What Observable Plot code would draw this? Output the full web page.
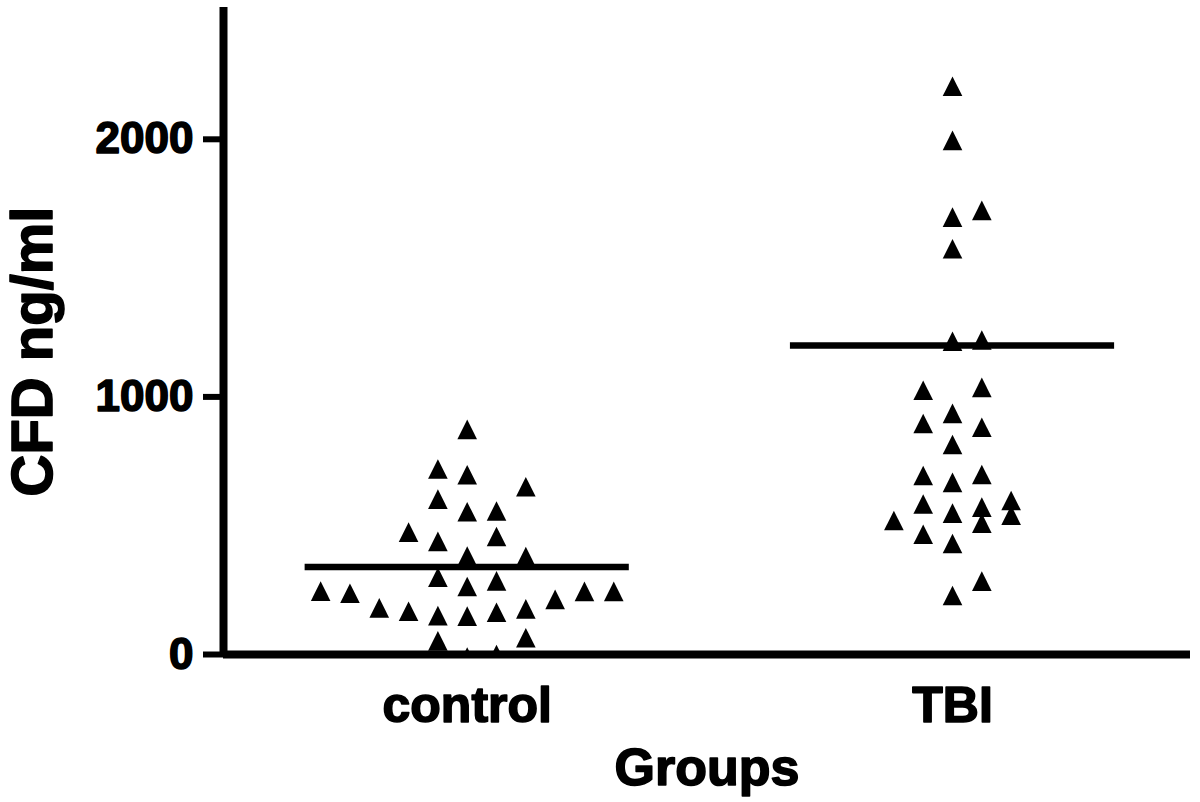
<!DOCTYPE html>
<html>
<head>
<meta charset="utf-8">
<script src="https://cdn.jsdelivr.net/npm/d3@7"></script>
<script src="https://cdn.jsdelivr.net/npm/@observablehq/plot@0.6"></script>
<style>
  html, body { margin: 0; padding: 0; background: #fff; }
  #chart { width: 1200px; height: 802px; }
  #chart svg text { paint-order: stroke; stroke: #000; stroke-width: 1.6px; stroke-linejoin: round; }
</style>
</head>
<body>
<div id="chart"></div>
<script>
// ---- data ----
const groups = ["control", "TBI"];
const controlValues = [874, 720, 698, 651, 603, 554, 557, 475, 439, 458, 382, 380, 300, 264, 286,
  246, 238, 181, 168, 151, 149, 164, 177, 214, 245, 245, 53, 65, -10, 0];
const controlColumns = [0, -1, 0, 2, -1, 0, 1, -2, -1, 1, 0, 2, -1, 0, 1,
  -5, -4, -3, -2, -1, 0, 1, 2, 3, 4, 5, -1, 2, 0, 1];
const tbiValues = [2206, 1996, 1724, 1698, 1575, 1216, 1221, 1026, 1037, 936, 897, 882, 815,
  695, 668, 699, 584, 549, 572, 598, 541, 510, 520, 467, 431, 285, 229];
const tbiColumns = [0, 0, 1, 0, 0, 0, 1, -1, 1, 0, -1, 1, 0,
  -1, 0, 1, -1, 0, 1, 2, 2, 1, -2, -1, 0, 1, 0];
const groupLines = [340, 1200];
const yTicks = [0, 1000, 2000];
const yLabel = "CFD ng/ml";
const xLabel = "Groups";

// ---- build table ----
const colStep = 0.0604;   // swarm column width in x units
const points = [
  ...controlValues.map((v, i) => ({g: 1, v, col: controlColumns[i]})),
  ...tbiValues.map((v, i) => ({g: 2, v, col: tbiColumns[i]}))
];
const lines = groupLines.map((v, i) => ({g: i + 1, v}));

const triangle = {
  draw(ctx, size) {
    const h = Math.sqrt(size / Math.PI);
    ctx.moveTo(0, -h);
    ctx.lineTo(h, h);
    ctx.lineTo(-h, h);
    ctx.closePath();
  }
};

const font = "'Liberation Sans', Arial, Helvetica, sans-serif";
const xDomain = [0.4978, 2.4904];

const chart = Plot.plot({
  width: 1200,
  height: 802,
  marginLeft: 223,
  marginRight: 10,
  marginTop: 10,
  marginBottom: 148,
  style: {fontFamily: font, fontWeight: "bold", color: "#000", background: "#fff"},
  x: {domain: xDomain, axis: null},
  y: {domain: [0, 2500], axis: null},
  marks: [
    Plot.dot(points, {
      x: d => d.g + d.col * colStep,
      y: "v",
      symbol: triangle,
      r: 9.8,
      fill: "#000",
      stroke: "none",
      clip: true
    }),
    Plot.ruleY(lines, {
      y: "v",
      x1: d => d.g - 0.334,
      x2: d => d.g + 0.334,
      stroke: "#000",
      strokeWidth: 6.5
    }),
    Plot.ruleX([xDomain[0]], {y1: 0, y2: 2512, stroke: "#000", strokeWidth: 8}),
    Plot.ruleY([0], {stroke: "#000", strokeWidth: 8}),
    Plot.axisY({
      ticks: yTicks,
      tickFormat: d => String(d),
      tickSize: 20,
      tickPadding: 10,
      strokeWidth: 6,
      fontSize: 44,
      fontWeight: "bold",
      label: null
    }),
    Plot.axisX({
      ticks: [1, 2],
      tickFormat: d => groups[d - 1],
      tickSize: 0,
      tickPadding: 32,
      fontSize: 50,
      fontWeight: "bold",
      label: null
    }),
    Plot.text([xLabel], {
      frameAnchor: "bottom",
      textAnchor: "middle",
      lineAnchor: "top",
      dy: 94,
      fontSize: 52,
      fontWeight: "bold",
      fill: "#000"
    }),
    Plot.text([yLabel], {
      frameAnchor: "left",
      textAnchor: "middle",
      lineAnchor: "middle",
      rotate: -90,
      dx: -190,
      dy: 19,
      fontSize: 58,
      fontWeight: "bold",
      fill: "#000"
    })
  ]
});

document.getElementById("chart").appendChild(chart);
</script>
</body>
</html>
